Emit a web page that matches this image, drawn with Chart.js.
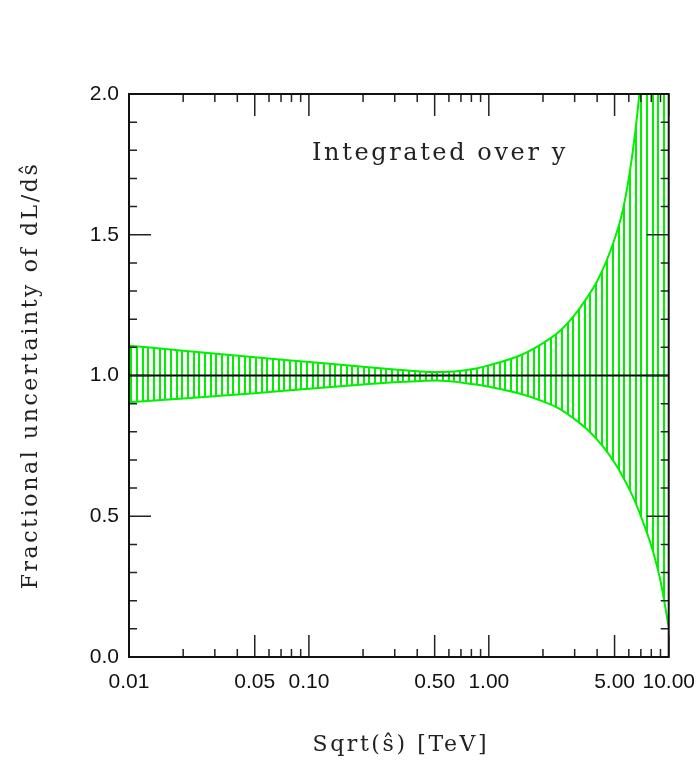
<!DOCTYPE html>
<html>
<head>
<meta charset="utf-8">
<script src="https://cdn.jsdelivr.net/npm/chart.js@4.4.1/dist/chart.umd.min.js"></script>
<style>
    html, body { margin: 0; padding: 0; background: #fff; }
    #wrap { width: 700px; height: 761px; position: relative; }
</style>
</head>
<body>
<div id="wrap"><canvas id="chart"></canvas></div>
<script>
// sqrt(s-hat) in TeV and the band edges
const sqrtS = [0.01, 0.02, 0.05, 0.1, 0.2, 0.3, 0.4, 0.5, 0.6, 0.7, 0.85, 1, 1.5, 2, 2.5, 3, 3.5, 4, 4.5, 5, 5.5, 6, 6.5, 7, 8, 9, 10];
const upperBand = [1.106, 1.088, 1.065, 1.048, 1.031, 1.021, 1.015, 1.012, 1.013, 1.017, 1.025, 1.036, 1.072, 1.115, 1.16, 1.215, 1.275, 1.335, 1.405, 1.485, 1.575, 1.70, 1.86, 2.06, 2.6, 3.3, 4.2];
const lowerBand = [0.905, 0.918, 0.937, 0.953, 0.968, 0.976, 0.980, 0.982, 0.980, 0.975, 0.968, 0.960, 0.935, 0.908, 0.88, 0.845, 0.81, 0.772, 0.732, 0.69, 0.646, 0.60, 0.552, 0.50, 0.395, 0.27, 0.107];
const refX = [0.01, 10];
const refY = [1, 1];

const xLabelTicks = [0.01, 0.05, 0.1, 0.5, 1, 5, 10];
const xMinorTicks = [0.02, 0.03, 0.04, 0.06, 0.07, 0.08, 0.09, 0.2, 0.3, 0.4, 0.6, 0.7, 0.8, 0.9, 2, 3, 4, 6, 7, 8, 9];
const yMajorTicks = [0, 0.5, 1, 1.5, 2];
const yMinorTicks = [0.1, 0.2, 0.3, 0.4, 0.6, 0.7, 0.8, 0.9, 1.1, 1.2, 1.3, 1.4, 1.6, 1.7, 1.8, 1.9];

const xTitle = 'Sqrt(ŝ) [TeV]';
const yTitle = 'Fractional uncertainty of dL/dŝ';
const note = 'Integrated over y';

const green = '#00f000';
const canvas = document.getElementById('chart');

function makeHatch() {
    const tile = document.createElement('canvas');
    tile.width = 17;
    tile.height = 8;
    const g = tile.getContext('2d');
    g.fillStyle = green;
    [0, 6, 11].forEach((x) => g.fillRect(x, 0, 2, 8));
    return canvas.getContext('2d').createPattern(tile, 'repeat');
}

const toPoints = (xs, ys) => xs.map((x, i) => ({ x, y: ys[i] }));

// typewriter-ish serif text: DejaVu Serif with some extra tracking
function spacedText(ctx, text, x, y, align, size) {
    ctx.font = size + 'px "DejaVu Serif"';
    if ('letterSpacing' in ctx) ctx.letterSpacing = '2.6px';
    ctx.textAlign = align;
    ctx.fillText(text, x, y);
}

// frame with inward ticks on all four sides, titles and the in-plot note
const frameTicks = {
    id: 'frameTicks',
    afterDatasetsDraw(chart) {
        const { ctx, chartArea: a, scales: { x, y } } = chart;
        ctx.save();
        ctx.strokeStyle = '#222';
        ctx.lineWidth = 1.5;
        ctx.beginPath();
        const tickX = (v, len) => {
            const px = x.getPixelForValue(v);
            ctx.moveTo(px, a.bottom); ctx.lineTo(px, a.bottom - len);
            ctx.moveTo(px, a.top); ctx.lineTo(px, a.top + len);
        };
        const tickY = (v, len) => {
            const py = y.getPixelForValue(v);
            ctx.moveTo(a.left, py); ctx.lineTo(a.left + len, py);
            ctx.moveTo(a.right, py); ctx.lineTo(a.right - len, py);
        };
        xLabelTicks.forEach((v) => tickX(v, 22));
        xMinorTicks.forEach((v) => tickX(v, 8));
        yMajorTicks.forEach((v) => tickY(v, 22));
        yMinorTicks.forEach((v) => tickY(v, 8));
        ctx.stroke();

        ctx.lineWidth = 2;
        ctx.strokeStyle = '#111';
        ctx.strokeRect(a.left, a.top, a.right - a.left, a.bottom - a.top);

        ctx.fillStyle = '#222';
        ctx.textBaseline = 'middle';
        spacedText(ctx, note, a.left + 183, a.top + 60, 'left', 24);
        spacedText(ctx, xTitle, (a.left + a.right) / 2 + 2, 745, 'center', 22);

        ctx.translate(31, (a.top + a.bottom) / 2);
        ctx.rotate(-Math.PI / 2);
        spacedText(ctx, yTitle, 0, 0, 'center', 22);
        ctx.restore();
    },
};

new Chart(canvas, {
    type: 'line',
    data: {
        datasets: [
            {
                data: toPoints(refX, refY),
                borderColor: '#000',
                borderWidth: 2,
                pointRadius: 0,
                fill: false,
            },
            {
                data: toPoints(sqrtS, upperBand),
                borderColor: green,
                borderWidth: 2,
                pointRadius: 0,
                cubicInterpolationMode: 'monotone',
                fill: '+1',
                backgroundColor: makeHatch(),
                clip: 0,
            },
            {
                data: toPoints(sqrtS, lowerBand),
                borderColor: green,
                borderWidth: 2,
                pointRadius: 0,
                cubicInterpolationMode: 'monotone',
                fill: false,
                clip: 0,
            },
        ],
    },
    options: {
        responsive: true,
        maintainAspectRatio: false,
        animation: false,
        layout: { padding: { top: 94, right: 31, bottom: 0, left: 0 } },
        plugins: {
            legend: { display: false },
            tooltip: { enabled: false },
        },
        scales: {
            x: {
                type: 'logarithmic',
                min: 0.01,
                max: 10,
                grid: { display: false },
                border: { display: false },
                afterBuildTicks: (scale) => {
                    scale.ticks = xLabelTicks.map((value) => ({ value }));
                },
                afterFit: (scale) => { scale.height = 104; },
                ticks: {
                    autoSkip: false,
                    maxRotation: 0,
                    padding: 5,
                    color: '#111',
                    font: { family: 'Liberation Sans', size: 21 },
                    callback: (value) => Number(value).toFixed(2),
                },
            },
            y: {
                type: 'linear',
                min: 0,
                max: 2,
                grid: { display: false },
                border: { display: false },
                afterFit: (scale) => { scale.width = 129; },
                ticks: {
                    stepSize: 0.5,
                    padding: 2,
                    color: '#111',
                    font: { family: 'Liberation Sans', size: 21 },
                    callback: (value) => Number(value).toFixed(1),
                },
            },
        },
    },
    plugins: [frameTicks],
});
</script>
</body>
</html>
